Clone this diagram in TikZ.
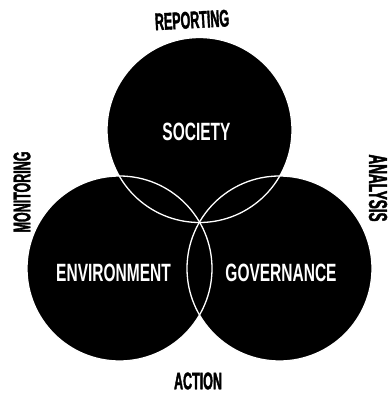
\documentclass[tikz,border=0pt]{standalone}
\usepackage{fontspec}
\newfontfamily\cond[FakeStretch=0.62]{Liberation Sans}
\newfontfamily\condo[FakeStretch=0.52,FakeBold=1.5]{Liberation Sans}
\begin{document}
\begin{tikzpicture}[x=1pt,y=-1pt,
  blob/.style={fill=black},
  rim/.style={draw=white,line width=1.3pt},
  inner/.style={text=white,font=\cond\bfseries\fontsize{25}{25}\selectfont,inner sep=0pt,anchor=center},
  outer/.style={text=black,font=\condo\bfseries\fontsize{24}{24}\selectfont,inner sep=0pt,anchor=center}]
\useasboundingbox (0,0) rectangle (390,394);
\fill[white] (0,0) rectangle (390,394);
\coordinate (cT) at (199.5,130);
\coordinate (cL) at (119.5,268.5);
\coordinate (cR) at (279.5,268.5);
\def\rr{92.5}
\fill[blob] (cT) circle[radius=\rr];
\fill[blob] (cL) circle[radius=\rr];
\fill[blob] (cR) circle[radius=\rr];
\draw[rim] (cT) circle[radius=\rr];
\draw[rim] (cL) circle[radius=\rr];
\draw[rim] (cR) circle[radius=\rr];
\node[inner] (soc) at (196.5,132) {SOCIETY};
\node[inner] (env) at (113.5,273) {ENVIRONMENT};
\node[inner] (gov) at (281,273) {GOVERNANCE};
\node[outer,rotate=3] (rep) at (192,20) {REPORTING};
\node[outer] (act) at (198,381) {ACTION};
\node[outer,rotate=90] (mon) at (22,192) {MONITORING};
\node[outer,rotate=-90,font=\condo\bfseries\fontsize{26}{26}\selectfont] (ana) at (378,188) {ANALYSIS};
\end{tikzpicture}
\end{document}
